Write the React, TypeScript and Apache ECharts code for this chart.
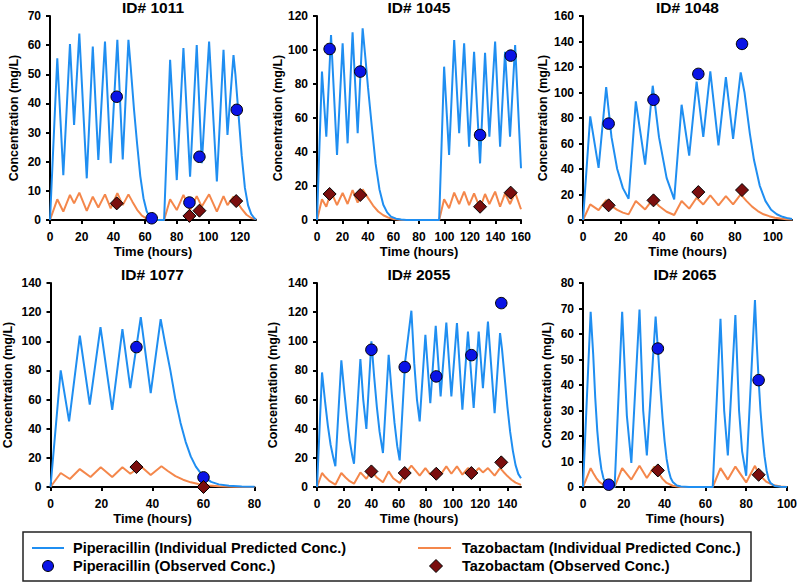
import React, { useEffect, useRef } from "react";
import * as echarts from "echarts";

// ---------- DATA (time in hours, concentration in mg/L) ----------
// ID# 1011
const pip1011Pred = [[0,0],[4.6,55.5],[8.4,15.4],[12.6,60.4],[15.2,32.6],[18.5,64],[23.2,14.3],[27,59.5],[30.5,20.6],[34.7,61.2],[38.3,19.5],[42.5,61.8],[45.9,20.8],[49.5,61.8],[51,52],[53,38],[55,26],[57,15],[59,7.5],[61,3],[63,1],[65,0.3],[68,0],[72,0],[75.8,55],[80,13.7],[84.2,59],[88.4,14.9],[92.6,60],[95.8,19.5],[100.4,61.2],[105.3,13.2],[109.5,58.4],[112,29.2],[115.8,56.6],[117,50],[119,36],[121,22],[123,11],[125,5],[127,2],[129,0.6],[130,0.3]];
const taz1011Pred = [[0,0],[4.6,7.1],[8.4,2.9],[12.6,8.6],[15.2,5.7],[18.5,9.4],[23.2,3.1],[27,8],[30.5,4.3],[34.7,8.8],[38.3,4],[42.5,9.2],[45.9,5.1],[49.5,8.8],[52,6.3],[55,3.5],[58,1.5],[61,0.5],[64,0.1],[68,0],[72,0],[75.8,7.1],[80,3.4],[84.2,8.6],[88.4,3.4],[92.6,8.2],[95.8,4.6],[100.4,8.8],[105.3,2.9],[109.5,8.2],[112,5.1],[115.8,8],[118,6.3],[121,3.8],[124,1.8],[127,0.7],[130,0.3]];
const pip1011Obs = [[42.1,42.3],[64.2,0.6],[88,6],[94.3,21.7],[117.9,37.8]];
const taz1011Obs = [[42.1,5.7],[88,1.4],[94.3,3.2],[117.5,6.5]];

// ID# 1045
const pip1045Pred = [[0,0],[3.9,87.3],[7.3,49],[11,108.8],[15.7,38.2],[20.1,103.9],[24,45.1],[27.9,110.4],[31.9,51],[35.8,112.7],[38,95],[40,78],[43,55],[46,33],[49,18],[52,9],[55,4.5],[58,2],[62,0.8],[66,0.3],[70,0],[95.8,0],[99.7,90.2],[103.6,38.2],[107.6,105.9],[111.5,51],[115.4,103.9],[119.3,43.1],[123.2,99],[127.9,33.3],[131.8,98.4],[135.2,49],[139.7,104.9],[143.6,43.1],[147.5,99],[151.4,49],[155.4,102.9],[160,30.4]];
const taz1045Pred = [[0,0],[3.9,12.2],[7.3,7.8],[11,16.7],[15.7,8.8],[20.1,16],[24,9.4],[27.9,17.6],[31.9,10.2],[35.8,18],[40,13],[44,8.5],[48,5],[52,2.8],[56,1.4],[60,0.6],[65,0.2],[70,0],[95.8,0],[99.7,12.2],[103.6,6.9],[107.6,16.1],[111.5,9.4],[115.4,16.7],[119.3,8.8],[123.2,15.7],[127.9,6.9],[131.8,15.3],[135.2,9.4],[139.7,16.7],[143.6,7.8],[147.5,15.7],[151.4,9.4],[155.4,16.1],[160,6.3]];
const pip1045Obs = [[9.9,100.6],[33.9,87.3],[127.9,50],[151.9,96.7]];
const taz1045Obs = [[9.9,15.3],[33.9,14.7],[127.9,7.8],[151.9,16.1]];

// ID# 1048
const pip1048Pred = [[0,0],[3.8,81.3],[8.2,40.9],[12.2,104.2],[15,65],[18,40],[21,25],[24,16.7],[27.8,93],[32.7,43.5],[36.7,105.3],[40,65],[44,33],[48,16.2],[51.9,90.4],[55.9,50.5],[59.8,108.6],[63.3,65.1],[67,116.5],[71.3,58.6],[75.2,112],[79,63.6],[83,115.7],[85,100],[87.8,68],[90,47],[93,27],[96,15],[99,8],[102,4.5],[105,2.5],[108,1.3],[110,0.8]];
const taz1048Pred = [[0,0],[3.8,12.2],[8.2,7.8],[12.2,15.6],[15,11],[18,8],[21,5.8],[24,4.4],[27.8,14.9],[32.7,8.3],[36.7,16.2],[40,11],[44,6.5],[48,3.9],[51.9,14.9],[55.9,8.9],[59.8,17.5],[63.3,12.2],[67,19.3],[71.3,11.5],[75.2,18.8],[79,12.2],[83,20.1],[86,15],[89,10.5],[92,7],[95,4.5],[98,3],[101,1.8],[104,1.1],[107,0.6],[110,0.4]];
const pip1048Obs = [[13.5,75.6],[37.1,94.3],[60.7,114.6],[83.7,138.1]];
const taz1048Obs = [[13.5,11.5],[37.1,15.4],[60.7,21.9],[83.7,23.5]];

// ID# 1077
const pip1077Pred = [[0,0],[4,80],[7.3,45],[11.5,103.8],[15.4,56.5],[19.6,109.7],[24.2,53],[28.2,108.3],[31.3,67.9],[35.4,116.6],[39.3,64.5],[43.2,115.2],[45,98],[47,80],[49,60],[51,44],[53,31],[55,21],[57,14],[60,7],[63,3.5],[66,1.8],[70,0.8],[75,0.3],[80,0.1]];
const taz1077Pred = [[0,0],[4,9.6],[7.6,5.5],[11.5,12.3],[15.7,6.9],[19.7,13.5],[24.2,6.9],[28.2,13.5],[31.3,9.1],[35.4,14.2],[39.3,8.2],[43.5,14.2],[46,11],[49,7.5],[52,5],[55,3.2],[58,2],[62,1],[66,0.5],[72,0.2],[80,0]];
const pip1077Obs = [[33.7,96],[60,6.6]];
const taz1077Obs = [[33.7,13.7],[60,0]];

// ID# 2055
const pip2055Pred = [[0,0],[3.7,78.6],[6,58],[8,42],[10,29],[12,20],[13.5,14.2],[17.9,86.9],[20,66],[22,48],[24,32],[26,21],[27.2,16],[31.9,87.8],[34,60],[36.3,39.8],[40,99.9],[42,76],[44,55],[46,38],[48.5,23.3],[52.7,90.7],[55,64],[57,44],[59,28],[60.8,18.3],[64.8,86],[69.4,121],[71.5,85],[73.5,60],[75.5,45],[79.7,104.5],[83.3,57.6],[87.3,110.6],[90.9,62.2],[95.1,112.9],[98.8,62.2],[102.9,112.5],[106.9,53],[111,106.7],[115.2,54.2],[118.9,106.7],[122,67.9],[125.7,113.6],[130.6,50.7],[134.6,105.6],[136,95],[138,75],[140,55],[142,38],[144,25],[146,15],[148,9],[150,6]];
const taz2055Pred = [[0,0],[3.7,9.6],[6,7],[9,4.2],[13.5,1.6],[17.9,9.6],[21,6.5],[24,4],[27.2,2.3],[31.9,10],[36.3,5.7],[40,11.2],[44,6.5],[48.5,3.2],[52.7,10.7],[56,6],[60.8,2.7],[64.8,9],[69.4,14.6],[75.5,7.8],[79.7,13],[83.3,8.5],[87.3,12.3],[90.9,8.5],[95.1,14.2],[98.8,9.1],[102.9,14.2],[106.9,8.5],[111,13],[115.2,9.1],[118.9,13],[122,10],[125.7,13],[130.6,7.8],[134.6,13],[137,10.5],[140,7.5],[143,5],[146,3],[150,1.5]];
const pip2055Obs = [[40,94.2],[64.5,82.3],[87.7,75.9],[113.5,90.5],[135.5,126.2]];
const taz2055Obs = [[40,10.7],[64.5,9.6],[87.7,9.1],[113.5,9.6],[135.5,16.9]];

// ID# 2065
const pip2065Pred = [[0,0],[3.75,68.7],[5,52],[6,35],[7,22],[8,13],[9,7],[10,3.5],[11,1.8],[12,0.9],[13,0.4],[14,0.1],[15.5,0],[19.2,68.7],[21.5,28],[23.7,9.4],[27.7,69.6],[29.5,30],[31.3,12.4],[35.6,66.8],[36.7,54.3],[38,38],[39,27],[40,18],[41,11],[42,6.5],[43,3.5],[44,2],[46,0.6],[48,0.2],[52,0],[63.6,0],[67.4,66],[69.2,30],[71,12.4],[74.7,67.4],[76.5,30],[78,14],[80,4.4],[84.3,73.3],[85.2,56],[86.1,42],[87,30],[88,20],[89,12],[90,6.5],[91,3],[92,1.5],[94,0.4],[97,0.1],[100,0]];
const taz2065Pred = [[0,0],[3.75,7.4],[5,5.5],[6.5,3.5],[8,2],[10,0.9],[12,0.3],[14,0],[15.5,0],[19.2,7.4],[23.7,2.9],[27.7,8.3],[31.3,3.5],[35,8],[37,5.5],[39,3.2],[41,1.6],[44,0.5],[48,0],[63.6,0],[67.4,7.4],[71,2.9],[74.7,8],[80,1.8],[84.3,8.3],[86,5.5],[88,3.5],[90,2],[93,0.8],[97,0.2],[100,0]];
const pip2065Obs = [[12.6,0.9],[36.7,54.3],[86.1,41.9]];
const taz2065Obs = [[36.7,6.5],[86.1,4.8]];

const panelTitles = ["ID# 1011", "ID# 1045", "ID# 1048", "ID# 1077", "ID# 2055", "ID# 2065"];
const xMaxes = [130, 160, 110, 80, 150, 100];
const yMaxes = [70, 120, 160, 140, 140, 80];
const yIntervals = [10, 20, 20, 20, 20, 10];

const legendNames = [
  "Piperacillin (Individual Predicted Conc.)",
  "Piperacillin (Observed Conc.)",
  "Tazobactam (Individual Predicted Conc.)",
  "Tazobactam (Observed Conc.)",
];

// ---------- STYLE / LAYOUT ----------
const FONT = '"Liberation Sans", Arial, Helvetica, sans-serif';
const BLUE_LINE = "#1F8EF1";
const ORANGE_LINE = "#F4874B";
const BLUE_DOT = "#0A14E6";
const RED_DIAMOND = "#7A0E0E";

const layouts = [
  { left: 50, top: 16, width: 206, yNameGap: 30 },
  { left: 317, top: 16, width: 204, yNameGap: 33 },
  { left: 583, top: 16, width: 209, yNameGap: 34 },
  { left: 50.5, top: 283, width: 204, yNameGap: 36 },
  { left: 317, top: 283, width: 204, yNameGap: 38 },
  { left: 583, top: 283, width: 204, yNameGap: 30 },
];
const GRID_H = 204;

const predSets = [
  [pip1011Pred, taz1011Pred, pip1011Obs, taz1011Obs],
  [pip1045Pred, taz1045Pred, pip1045Obs, taz1045Obs],
  [pip1048Pred, taz1048Pred, pip1048Obs, taz1048Obs],
  [pip1077Pred, taz1077Pred, pip1077Obs, taz1077Obs],
  [pip2055Pred, taz2055Pred, pip2055Obs, taz2055Obs],
  [pip2065Pred, taz2065Pred, pip2065Obs, taz2065Obs],
];

function ticksFor(max: number, step: number) {
  const out: number[] = [];
  for (let v = 0; v <= max + 1e-9; v += step) out.push(v);
  return out;
}

function buildOption() {
  const grid: any[] = [];
  const xAxis: any[] = [];
  const yAxis: any[] = [];
  const title: any[] = [];
  const series: any[] = [];

  layouts.forEach((L, i) => {
    grid.push({ left: L.left, top: L.top, width: L.width, height: GRID_H, containLabel: false });
    const xt = ticksFor(xMaxes[i], 20);
    xAxis.push({
      gridIndex: i,
      type: "value",
      min: 0,
      max: xMaxes[i],
      interval: 20,
      name: "Time (hours)",
      nameLocation: "middle",
      nameGap: 25,
      nameTextStyle: { color: "#000", fontFamily: FONT, fontWeight: "bold", fontSize: 13 },
      axisLine: { show: true, onZero: false, lineStyle: { color: "#000", width: 2 } },
      axisTick: { show: true, length: 4, customValues: xt, lineStyle: { color: "#000", width: 2 } },
      axisLabel: { customValues: xt, color: "#000", fontFamily: FONT, fontWeight: "bold", fontSize: 12, margin: 11 },
      splitLine: { show: false },
    });
    yAxis.push({
      gridIndex: i,
      type: "value",
      min: 0,
      max: yMaxes[i],
      interval: yIntervals[i],
      name: "Concentration (mg/L)",
      nameLocation: "middle",
      nameGap: L.yNameGap,
      nameTextStyle: { color: "#000", fontFamily: FONT, fontWeight: "bold", fontSize: 12.5 },
      axisLine: { show: true, lineStyle: { color: "#000", width: 2 } },
      axisTick: { show: true, length: 4, lineStyle: { color: "#000", width: 2 } },
      axisLabel: { color: "#000", fontFamily: FONT, fontWeight: "bold", fontSize: 12, margin: 9 },
      splitLine: { show: false },
    });
    title.push({
      text: panelTitles[i],
      left: L.left + L.width / 2,
      top: L.top < 100 ? -1 : 266,
      textAlign: "center",
      padding: 0,
      textStyle: { color: "#000", fontFamily: FONT, fontWeight: "bold", fontSize: 15.5 },
    });
    const [pip, taz, pipObs, tazObs] = predSets[i];
    series.push({
      name: legendNames[2], type: "line", xAxisIndex: i, yAxisIndex: i, data: taz,
      showSymbol: false, symbol: "none", lineStyle: { color: ORANGE_LINE, width: 2 }, itemStyle: { color: ORANGE_LINE }, z: 2,
    });
    series.push({
      name: legendNames[0], type: "line", xAxisIndex: i, yAxisIndex: i, data: pip,
      showSymbol: false, symbol: "none", lineStyle: { color: BLUE_LINE, width: 2 }, itemStyle: { color: BLUE_LINE }, z: 3,
    });
    series.push({
      name: legendNames[1], type: "scatter", xAxisIndex: i, yAxisIndex: i, data: pipObs,
      symbol: "circle", symbolSize: 11.5, itemStyle: { color: BLUE_DOT, borderColor: "#000", borderWidth: 1, opacity: 1 }, z: 4,
    });
    series.push({
      name: legendNames[3], type: "scatter", xAxisIndex: i, yAxisIndex: i, data: tazObs,
      symbol: "diamond", symbolSize: 13, itemStyle: { color: RED_DIAMOND, borderColor: "#000", borderWidth: 1, opacity: 1 }, z: 5,
    });
  });

  const legendFont = { fill: "#000", fontFamily: FONT, fontWeight: "bold", fontSize: 14.5, verticalAlign: "middle", align: "left" };
  const graphic: any[] = [
    { type: "rect", shape: { x: 23, y: 532, width: 728, height: 49 }, style: { fill: "none", stroke: "#222", lineWidth: 1.5 }, silent: true },
    { type: "line", shape: { x1: 32, y1: 548, x2: 64, y2: 548 }, style: { stroke: BLUE_LINE, lineWidth: 2 } },
    { type: "circle", shape: { cx: 48, cy: 566, r: 5.5 }, style: { fill: BLUE_DOT, stroke: "#000", lineWidth: 1 } },
    { type: "text", x: 73, y: 548, style: { text: legendNames[0], ...legendFont } },
    { type: "text", x: 73, y: 566, style: { text: legendNames[1], ...legendFont } },
    { type: "line", shape: { x1: 418, y1: 548, x2: 451, y2: 548 }, style: { stroke: ORANGE_LINE, lineWidth: 2 } },
    { type: "polygon", shape: { points: [[436, 559.5], [442.5, 566], [436, 572.5], [429.5, 566]] }, style: { fill: RED_DIAMOND, stroke: "#000", lineWidth: 1 } },
    { type: "text", x: 462, y: 548, style: { text: legendNames[2], ...legendFont } },
    { type: "text", x: 462, y: 566, style: { text: legendNames[3], ...legendFont } },
  ];

  return {
    animation: false,
    backgroundColor: "#fff",
    title,
    grid,
    xAxis,
    yAxis,
    series,
    graphic,
  };
}

export default function App() {
  const ref = useRef<HTMLDivElement>(null);
  useEffect(() => {
    if (!ref.current) return;
    const chart = echarts.init(ref.current, null, { renderer: "svg" });
    chart.setOption(buildOption() as any);
    return () => chart.dispose();
  }, []);
  return (
    <div
      ref={ref}
      style={{ position: "absolute", left: 0, top: 0, width: 800, height: 584, background: "#fff" }}
    />
  );
}
